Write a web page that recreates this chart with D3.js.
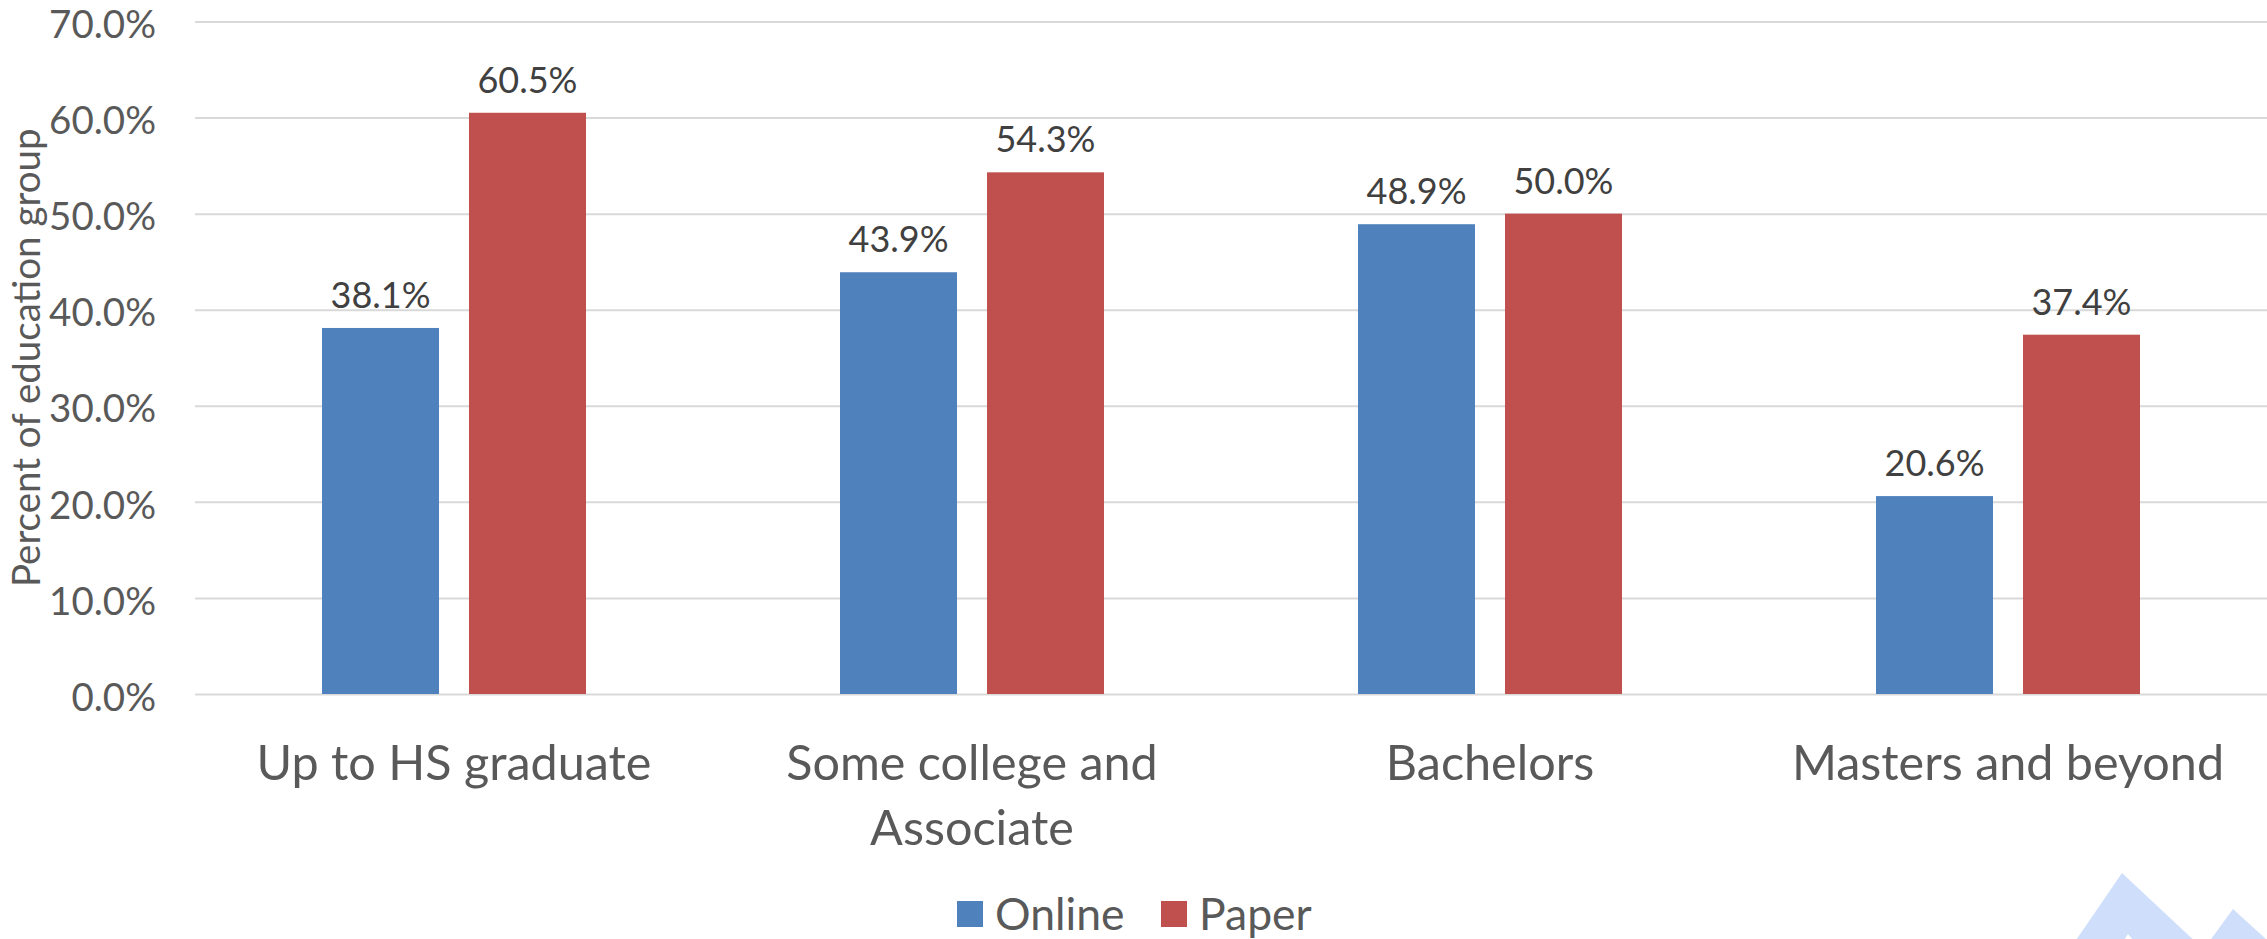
<!DOCTYPE html>
<html>
<head>
<meta charset="utf-8">
<script src="https://cdn.jsdelivr.net/npm/d3@7"></script>
<style>
  html, body { margin: 0; padding: 0; background: #fff; }
  svg { display: block; }
  text { font-family: Lato, "Open Sans", sans-serif; }
</style>
</head>
<body>
<svg id="chart" width="2267" height="939"></svg>
<script>
// ---- data ----
const categories = [["Up to HS graduate"], ["Some college and", "Associate"], ["Bachelors"], ["Masters and beyond"]];
const seriesNames = ["Online", "Paper"];
const onlineValues = [38.1, 43.9, 48.9, 20.6];
const paperValues = [60.5, 54.3, 50.0, 37.4];
const yTicks = [0, 10, 20, 30, 40, 50, 60, 70];
const colors = ["#4f81bd", "#c0504d"];

const W = 2267, H = 939;
const margin = { left: 195, right: 0, top: 21.5, bottom: 245 };
const svg = d3.select("#chart");

const catKeys = categories.map((c, i) => i);
const x0 = d3.scaleBand().domain(catKeys).range([margin.left, W - margin.right]).paddingInner(0).paddingOuter(0);
const x1 = d3.scaleBand().domain(seriesNames).range([0, x0.bandwidth()]).paddingInner(0.204).paddingOuter(0.864);
const y = d3.scaleLinear().domain([0, 70]).range([H - margin.bottom, margin.top]);

// decoration (light logo shapes bottom-right)
const deco = svg.append("g");
deco.append("polygon").attr("points", "2122,873 2072,946 2200,946").attr("fill", "#cfdffb");
deco.append("polygon").attr("points", "2233,909 2206,946 2267,946 2267,940").attr("fill", "#cfdffb");
deco.append("polygon").attr("points", "2128,934 2121,945 2137,945").attr("fill", "#ffffff");

// gridlines + y axis
const yAxis = d3.axisLeft(y).tickValues(yTicks).tickSize(0).tickPadding(0)
  .tickFormat(d => d.toFixed(1) + "%");
const gy = svg.append("g").attr("transform", `translate(${margin.left},0)`).call(yAxis);
gy.select(".domain").remove();
gy.selectAll(".tick text")
  .attr("x", -39)
  .attr("dy", "0.42em")
  .attr("fill", "#595959")
  .style("font-size", "38.5px")
  .style("font-family", "Lato, sans-serif");
gy.selectAll(".tick").append("line")
  .attr("x1", 0).attr("x2", W - margin.left - margin.right)
  .attr("stroke", "#d9d9d9").attr("stroke-width", 2);

// bars
const rows = catKeys.map(i => ({ i, vals: [onlineValues[i], paperValues[i]] }));
const groups = svg.append("g").selectAll("g").data(rows).join("g")
  .attr("transform", d => `translate(${x0(d.i)},0)`);
groups.selectAll("rect").data(d => d.vals.map((v, k) => ({ k, v }))).join("rect")
  .attr("x", d => x1(seriesNames[d.k]))
  .attr("width", x1.bandwidth())
  .attr("y", d => y(d.v))
  .attr("height", d => y(0) - y(d.v))
  .attr("fill", d => colors[d.k]);
groups.selectAll("text.val").data(d => d.vals.map((v, k) => ({ k, v }))).join("text")
  .attr("class", "val")
  .attr("x", d => x1(seriesNames[d.k]) + x1.bandwidth() / 2)
  .attr("y", d => y(d.v) - 20)
  .attr("text-anchor", "middle")
  .attr("fill", "#404040")
  .style("font-size", "36px")
  .text(d => d.v.toFixed(1) + "%");

// x axis labels
const xl = svg.append("g").selectAll("text").data(rows).join("text")
  .attr("x", d => x0(d.i) + x0.bandwidth() / 2)
  .attr("y", 763)
  .attr("text-anchor", "middle")
  .attr("fill", "#595959")
  .style("font-size", "48.5px");
xl.selectAll("tspan").data(d => categories[d.i]).join("tspan")
  .attr("x", function () { return d3.select(this.parentNode).attr("x"); })
  .attr("dy", (d, j) => j === 0 ? "0.36em" : "65px")
  .text(d => d);

// y axis title
svg.append("text")
  .attr("transform", `translate(40,${(y(0) + y(70)) / 2}) rotate(-90)`)
  .attr("text-anchor", "middle")
  .attr("fill", "#595959")
  .style("font-size", "38.5px")
  .text("Percent of education group");

// legend
const legendX = [957, 1161];
const lg = svg.append("g").selectAll("g").data(seriesNames).join("g")
  .attr("transform", (d, i) => `translate(${legendX[i]},914)`);
lg.append("rect").attr("x", 0).attr("y", -13).attr("width", 26).attr("height", 26)
  .attr("fill", (d, i) => colors[i]);
lg.append("text").attr("x", 38).attr("dy", "0.36em")
  .attr("fill", "#595959").style("font-size", "44.5px").text(d => d);
</script>
</body>
</html>
